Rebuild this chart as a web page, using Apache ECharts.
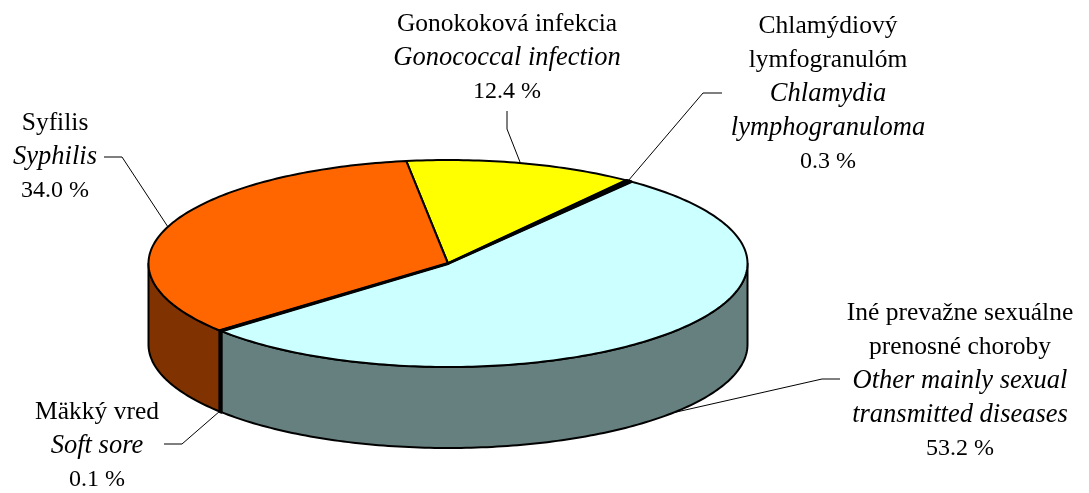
<!DOCTYPE html>
<html>
<head>
<meta charset="utf-8">
<style>
html, body { margin: 0; padding: 0; background: #fff; }
#chart { width: 1089px; height: 493px; }
</style>
<script src="https://cdn.jsdelivr.net/npm/echarts@6/dist/echarts.min.js"></script>
</head>
<body>
<div id="chart"></div>
<script>
// data
var namesSk = ['Gonokoková infekcia', 'Chlamýdiový\nlymfogranulóm', 'Iné prevažne sexuálne\nprenosné choroby', 'Mäkký vred', 'Syfilis'];
var namesEn = ['Gonococcal infection', 'Chlamydia\nlymphogranuloma', 'Other mainly sexual\ntransmitted diseases', 'Soft sore', 'Syphilis'];
var values = [12.4, 0.3, 53.2, 0.1, 34.0];

var topColors = ['#FFFF00', '#1a1a1a', '#CCFFFF', '#000000', '#FF6600'];
var wallColors = ['#808000', '#000000', '#668080', '#000000', '#803300'];

// label centre and leader line for each slice
var labelPos = [[507, 7], [828, 9], [960, 296], [97, 395], [55, 106]];
var leaders = [
    [[507, 111], [507, 129], [520, 162]],
    [[722, 93], [703, 93], [628, 181]],
    [[840, 379], [822, 379], [672, 413]],
    [[164, 444], [182, 444], [220, 411]],
    [[104, 157], [122, 157], [168, 227]]
];

var cx = 448, cy = 263.5, rx = 299.5, ry = 103.5, depth = 81;
var startAngle = -8;   // degrees clockwise from the top
var total = 100;

function pt(deg, dy) {
    var a = deg * Math.PI / 180;
    return [cx + rx * Math.sin(a), cy - ry * Math.cos(a) + (dy || 0)];
}

function arc(from, to, dy) {
    var pts = [];
    var n = Math.max(2, Math.ceil(Math.abs(to - from)));
    for (var i = 0; i <= n; i++) {
        pts.push(pt(from + (to - from) * i / n, dy));
    }
    return pts;
}

function renderSlice(params, api) {
    var idx = params.dataIndex;
    var before = 0;
    for (var i = 0; i < idx; i++) before += values[i];
    var a0 = startAngle + before / total * 360;
    var a1 = a0 + api.value(0) / total * 360;
    var children = [];
    var sliver = api.value(0) < 1;

    // side wall, only the front half of the cylinder is visible (90..270)
    var w0 = Math.max(a0, 90), w1 = Math.min(a1, 270);
    if (w1 > w0) {
        children.push({
            type: 'polygon',
            z2: sliver ? 1.5 : 1,
            shape: { points: arc(w0, w1, 0).concat(arc(w1, w0, depth)) },
            style: { fill: wallColors[idx], stroke: '#000', lineWidth: sliver ? 3 : 2, lineJoin: 'round' }
        });
    }

    // top face
    children.push({
        type: 'polygon',
        z2: sliver ? 3 : 2,
        shape: { points: [[cx, cy]].concat(arc(a0, a1, 0)) },
        style: { fill: topColors[idx], stroke: '#000', lineWidth: sliver ? 3 : 2, lineJoin: 'round' }
    });

    children.push({
        type: 'polyline',
        z2: 4,
        shape: { points: leaders[idx] },
        style: { fill: null, stroke: '#000', lineWidth: 1 }
    });

    var sk = namesSk[idx].split('\n').map(function (s) { return '{sk|' + s + '}'; }).join('\n');
    var en = namesEn[idx].split('\n').map(function (s) { return '{en|' + s + '}'; }).join('\n');
    children.push({
        type: 'text',
        z2: 5,
        x: labelPos[idx][0],
        y: labelPos[idx][1],
        style: {
            text: sk + '\n' + en + '\n{pc|' + api.value(0).toFixed(1) + ' %}',
            align: 'center',
            verticalAlign: 'top',
            fill: '#000',
            rich: {
                sk: { fontFamily: 'Liberation Serif', fontSize: 25.5, lineHeight: 34, fill: '#000' },
                en: { fontFamily: 'Liberation Serif', fontStyle: 'italic', fontSize: 26.5, lineHeight: 34, fill: '#000' },
                pc: { fontFamily: 'Liberation Serif', fontSize: 24, lineHeight: 34, fill: '#000' }
            }
        }
    });

    return { type: 'group', children: children };
}

var dom = document.getElementById('chart');
var myChart = echarts.init(dom);

var option = {
    animation: false,
    backgroundColor: '#fff',
    series: [
        {
            type: 'custom',
            coordinateSystem: 'none',
            renderItem: renderSlice,
            data: values.map(function (v) { return [v]; })
        }
    ]
};

myChart.setOption(option);
</script>
</body>
</html>
